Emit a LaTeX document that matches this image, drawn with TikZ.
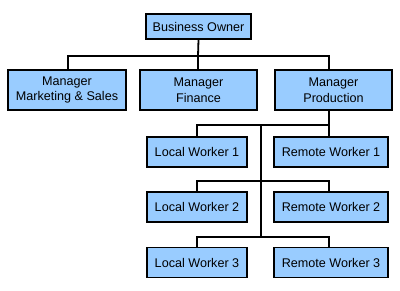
\documentclass[tikz,border=0pt]{standalone}
\usepackage{fontspec}
\setmainfont{Liberation Sans}
\definecolor{boxblue}{HTML}{99CCFF}
\begin{document}
\begin{tikzpicture}[x=1pt,y=-1pt,
  orgbox/.style={draw=black,line width=1.7pt,fill=boxblue,inner sep=0pt,
    font=\fontsize{12.6}{15.5}\selectfont,align=center},
  link/.style={line width=1.8pt}]
\useasboundingbox (0,0) rectangle (400,291);
\node[orgbox,minimum width=105pt,minimum height=25pt] (bo) at (198.5,26.5) {Business Owner};
\node[orgbox,minimum width=118pt,minimum height=40pt] (mk) at (67,90) {Manager\\Marketing \& Sales};
\node[orgbox,minimum width=117pt,minimum height=40pt] (fi) at (198.5,90) {Manager\\Finance};
\node[orgbox,minimum width=117pt,minimum height=40pt] (pr) at (333.5,90) {Manager\\Production};
\node[orgbox,minimum width=100pt,minimum height=30pt] (lw1) at (197,152) {Local Worker 1};
\node[orgbox,minimum width=114pt,minimum height=30pt] (rw1) at (331,152) {Remote Worker 1};
\node[orgbox,minimum width=100pt,minimum height=30pt] (lw2) at (197,207) {Local Worker 2};
\node[orgbox,minimum width=114pt,minimum height=30pt] (rw2) at (331,207) {Remote Worker 2};
\node[orgbox,minimum width=100pt,minimum height=30pt] (lw3) at (197,262.5) {Local Worker 3};
\node[orgbox,minimum width=114pt,minimum height=30pt] (rw3) at (331,262.5) {Remote Worker 3};
% top bus
\coordinate (bl) at (68,56);
\coordinate (bm) at (198,56);
\coordinate (br) at (329,56);
\draw[link] (bo.south) -- (bm);
\draw[link] (bl |- mk.north) -- (bl) -- (br) -- (br |- pr.north);
\draw[link] (bm) -- (bm |- fi.north);
% production branches
\coordinate (p0) at (329,110);
\coordinate (r1l) at (197,125);
\coordinate (r1r) at (329,125);
\coordinate (t1) at (261,125);
\coordinate (r2l) at (197,181);
\coordinate (r2r) at (329,181);
\coordinate (r3l) at (197,237);
\coordinate (r3r) at (329,237);
\coordinate (t3) at (261,237);
\draw[link] (p0 |- pr.south) -- (r1r);
\draw[link] (r1l |- lw1.north) -- (r1l) -- (r1r) -- (r1r |- rw1.north);
\draw[link] (r2l |- lw2.north) -- (r2l) -- (r2r) -- (r2r |- rw2.north);
\draw[link] (r3l |- lw3.north) -- (r3l) -- (r3r) -- (r3r |- rw3.north);
\draw[link] (t1) -- (t3);
\end{tikzpicture}
\end{document}
